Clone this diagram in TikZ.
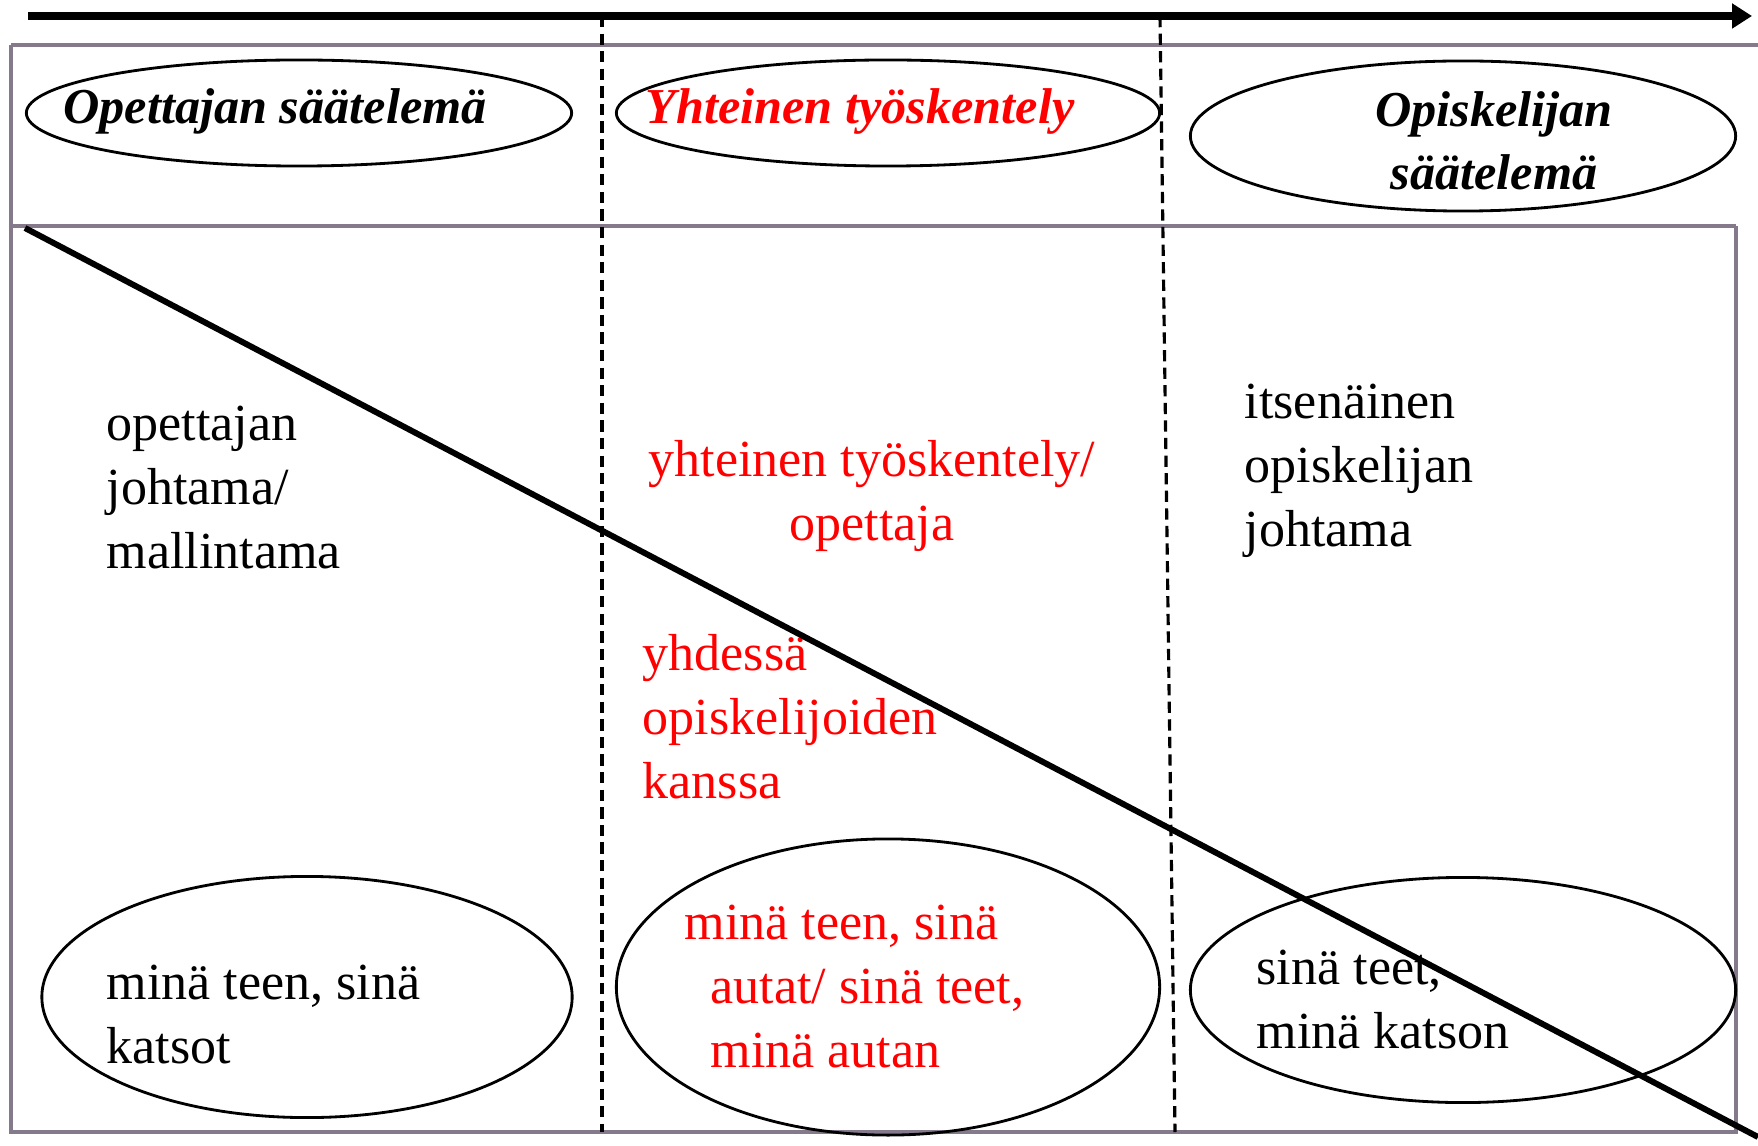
\documentclass[tikz,border=0pt]{standalone}
\usepackage{fontspec}
\setmainfont{Liberation Serif}
\usetikzlibrary{arrows.meta,shapes.geometric}
\definecolor{framegray}{RGB}{133,122,140}

\begin{document}
\begin{tikzpicture}[x=0.01cm, y=-0.01cm,
		oval/.style = {draw, ellipse, line width=0.8pt, inner sep=0pt},
		head/.style = {font=\fontsize{14.3}{17.9}\selectfont\bfseries\itshape, align=center, inner sep=0pt},
		body/.style = {font=\fontsize{14.8}{18.2}\selectfont, align=left, inner sep=0pt, anchor=west},
		divider/.style = {dash pattern=on 3.2pt off 1.8pt, line width=0.9pt}]
			\useasboundingbox (0, 0) rectangle (1758, 1146);
			\draw[framegray, line width=1.1pt] (11, 45) -- (1758, 45) (11, 45) -- (11, 1132) -- (1736, 1132) -- (1736, 226) (11, 226) -- (1736, 226);
			\coordinate (axisStart) at (28, 16);
			\coordinate (axisEnd) at (1752, 16);
			\draw[line width=2pt, -{Triangle[length=0.2cm, width=0.24cm]}] (axisStart) -- (axisEnd);
			\coordinate (cutA) at (602, 16);
			\coordinate (cutB) at (602, 1132);
			\draw[divider] (cutA) -- (cutB);
			\coordinate (cutC) at (1160, 16);
			\coordinate (cutD) at (1175, 1132);
			\draw[divider] (cutC) -- (cutD);
			\node (opsE) at (299, 113) [oval, minimum width=5.45cm, minimum height=1.06cm] {};
			\node (yhtE) at (888, 113) [oval, minimum width=5.43cm, minimum height=1.06cm] {};
			\node (opiE) at (1463, 136) [oval, minimum width=5.45cm, minimum height=1.5cm] {};
			\node (ops) at (275, 111) [head] {Opettajan säätelemä};
			\node (yht) at (860, 111) [head, red] {Yhteinen työskentely};
			\node (opi) at (1494, 141) [head] {Opiskelijan\\säätelemä};
			\node (opj) at (106, 488) [body] {opettajan\\johtama/\\mallintama};
			\node (yhtT) at (872, 496) [body, anchor=center, align=center, red] {yhteinen työskentely/\\opettaja};
			\node (yhd) at (642, 717) [body, red] {yhdessä\\opiskelijoiden\\kanssa};
			\node (its) at (1244, 471) [body] {itsenäinen\\opiskelijan\\johtama};
			\node (minaE) at (307, 997) [oval, minimum width=5.3cm, minimum height=2.41cm] {};
			\node (autaE) at (888, 987) [oval, minimum width=5.43cm, minimum height=2.96cm] {};
			\node (sinaE) at (1463, 990) [oval, minimum width=5.45cm, minimum height=2.25cm] {};
			\node (mina) at (106, 1015) [body] {minä teen, sinä\\katsot};
			\node (auta) at (710, 987) [body, red] {\hspace*{-0.26cm}minä teen, sinä\\autat/ sinä teet,\\minä autan};
			\node (sina) at (1256, 1000) [body] {sinä teet,\\minä katson};
			\coordinate (slopeA) at (25, 228);
			\coordinate (slopeB) at (1758, 1137);
			\draw[line width=1.7pt] (slopeA) -- (slopeB);
		\end{tikzpicture}
\end{document}
